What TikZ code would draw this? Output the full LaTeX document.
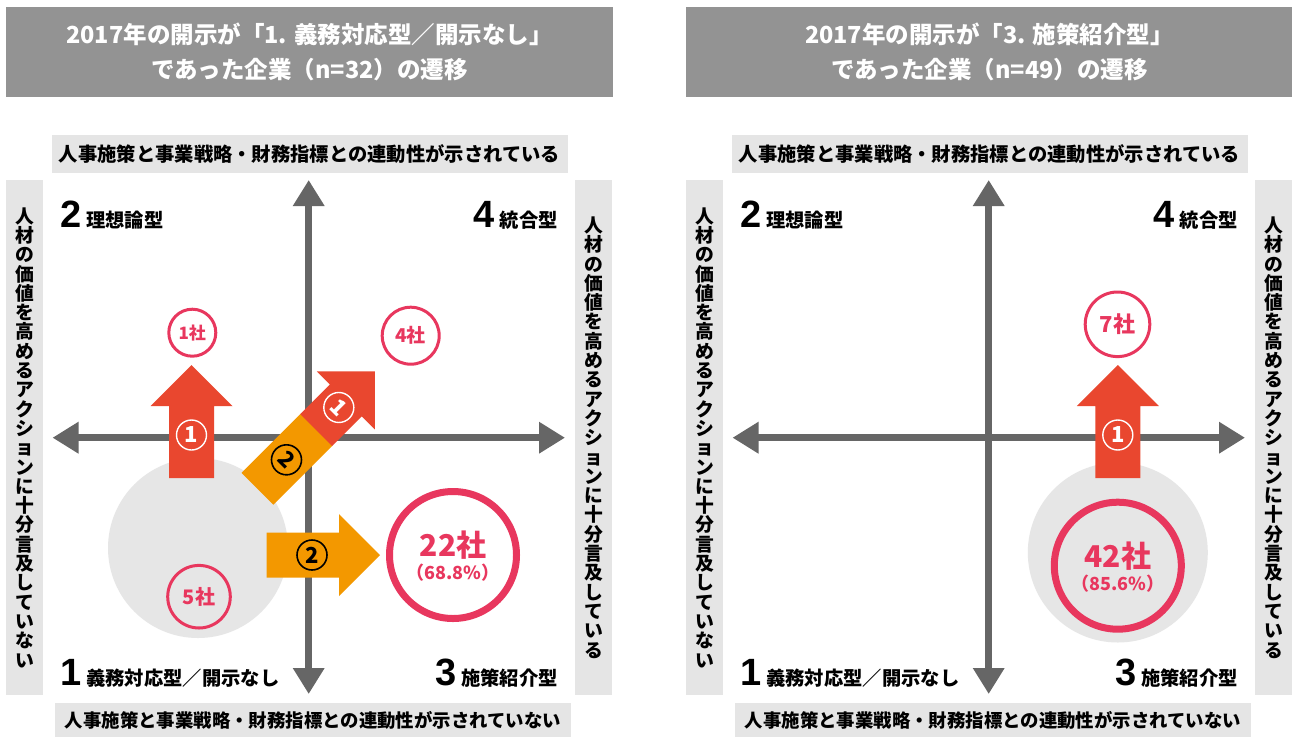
\documentclass[tikz,border=0pt]{standalone}
\usepackage{fontspec}
\setmainfont{Noto Sans CJK JP}
\newfontfamily\digitfont{Liberation Sans}
\usetikzlibrary{arrows.meta}
\definecolor{titlegray}{HTML}{939393}
\definecolor{boxgray}{HTML}{E5E5E5}
\definecolor{axisgray}{HTML}{666666}
\definecolor{redA}{HTML}{E9472F}
\definecolor{orangeA}{HTML}{F39800}
\definecolor{pinkC}{HTML}{E8375E}
\definecolor{circlegray}{HTML}{E6E6E6}
\newcommand\myfs[1]{\fontsize{#1}{#1}\selectfont}
\newcommand\qd[1]{{\digitfont\bfseries\myfs{38}#1}}
\tikzset{
  titlebox/.style={fill=titlegray, text=white, align=center, inner sep=0pt,
    minimum width=607pt, minimum height=90pt,
    font=\bfseries\fontsize{23.5}{35}\selectfont},
  labbox/.style={fill=boxgray, text=black, inner sep=0pt, font=\bfseries\myfs{19.3}},
  vbox/.style={fill=boxgray, text=black, inner sep=0pt, align=center,
    minimum width=37pt, minimum height=515pt,
    font=\bfseries\fontsize{18.8}{19.3}\selectfont},
  quad/.style={inner sep=0pt, text=black, font=\bfseries\myfs{19.3}},
  axisline/.style={draw=axisgray, line width=7pt,
    arrows={Triangle[width=30pt,length=26pt]-Triangle[width=30pt,length=26pt]}},
  cnt/.style={circle, draw=pinkC, line width=3pt, text=pinkC, inner sep=0pt},
  bigcnt/.style={circle, draw=pinkC, line width=7pt, inner sep=0pt, minimum size=127pt},
  pinktext/.style={text=pinkC, inner sep=0pt},
  numw/.style={circle, draw=white, line width=1.4pt, minimum size=30pt, inner sep=0pt,
    text=white, font=\bfseries\myfs{22}},
  numb/.style={circle, draw=black, line width=1.6pt, minimum size=30pt, inner sep=0pt,
    text=black, font=\bfseries\myfs{22}},
  uparrow/.pic={\fill[redA] (-22.5,0) -- (-22.5,-72) -- (-41,-72) -- (0,-113)
    -- (41,-72) -- (22.5,-72) -- (22.5,0) -- cycle;}
}
\newcommand\panelcommon[2]{%
  \node[titlebox] (title) at (309.5,52) {#1\\#2};
  \node[labbox, minimum width=516pt, minimum height=38pt] (top) at (309.5,154)
    {人事施策と事業戦略・財務指標との連動性が示されている};
  \node[labbox, minimum width=516pt, minimum height=34pt, font=\bfseries\myfs{18.4}] (bot) at (313,720)
    {人事施策と事業戦略・財務指標との連動性が示されていない};
  \node[vbox] (leftlab) at (24.5,437.5)
    {人\\材\\の\\価\\値\\を\\高\\め\\る\\ア\\ク\\シ\\ョ\\ン\\に\\十\\分\\言\\及\\し\\て\\い\\な\\い};
  \node[vbox] (rightlab) at (593.5,437.5)
    {人\\材\\の\\価\\値\\を\\高\\め\\る\\ア\\ク\\シ\\ョ\\ン\\に\\十\\分\\言\\及\\し\\て\\い\\る};
  \coordinate (vt) at (308.7,180);
  \coordinate (vb) at (308.7,694);
  \coordinate (hl) at (52.5,437.7);
  \coordinate (hr) at (565,437.7);
  \draw[axisline] (vt) -- (vb);
  \draw[axisline] (hl) -- (hr);
  \node[quad, anchor=base west] (q2) at (60,227) {\qd{2}\hspace{5pt}理想論型};
  \node[quad, anchor=base east] (q4) at (558,227) {\qd{4}\hspace{5pt}統合型};
  \node[quad, anchor=base west] (q1) at (60,685) {\qd{1}\hspace{5pt}義務対応型／開示なし};
  \node[quad, anchor=base east] (q3) at (558,685) {\qd{3}\hspace{5pt}施策紹介型};
}
\begin{document}
\begin{tikzpicture}[x=1pt, y=-1pt]
\useasboundingbox (0,0) rectangle (1292,737);
\fill[white] (0,0) rectangle (1292,737);
% gray circles
\fill[circlegray] (198,548) circle[radius=90];
\fill[circlegray] (1117.8,552.5) circle[radius=90];
% panels
\begin{scope}[name prefix=L-]
  \panelcommon{2017年の開示が「1. 義務対応型／開示なし」}{であった企業（n=32）の遷移}
\end{scope}
\begin{scope}[xshift=680pt, name prefix=R-]
  \panelcommon{2017年の開示が「3. 施策紹介型」}{であった企業（n=49）の遷移}
\end{scope}
% ---- left panel arrows
\pic at (191.5,478) {uparrow};
\node[numw] (L-n1) at (191.5,435) {1};
\begin{scope}[shift={(257.5,488.8)}, rotate=-45]
  \fill[orangeA] (-22.5,0) rectangle (22.5,-83.5);
  \fill[redA] (-22.5,-83) -- (-22.5,-125) -- (-41,-125) -- (0,-166) -- (41,-125)
    -- (22.5,-125) -- (22.5,-83) -- cycle;
  \node[numb, transform shape] (L-d2) at (0,-41) {2};
  \node[numw, transform shape] (L-d1) at (0,-115) {1};
\end{scope}
\fill[orangeA] (266.7,532.5) -- (339,532.5) -- (339,514) -- (380,555) -- (339,596)
  -- (339,577.5) -- (266.7,577.5) -- cycle;
\node[numb] (L-n2) at (312,555) {2};
% left panel counts
\node[cnt, minimum size=47pt, font=\bfseries\myfs{17}] (L-c1) at (192.3,332.7) {1社};
\node[cnt, minimum size=57pt, font=\bfseries\myfs{19}] (L-c4) at (410.7,335.7) {4社};
\node[cnt, minimum size=62.6pt, font=\bfseries\myfs{20}] (L-c5) at (199,596.7) {5社};
\node[bigcnt] (L-c22) at (453,555) {};
\node[pinktext, font=\bfseries\myfs{30}] (L-t22) at (453,545) {22社};
\node[pinktext, font=\bfseries\myfs{18}] (L-p22) at (453,573) {（68.8\%）};
% ---- right panel
\pic at (1117.8,478) {uparrow};
\node[numw] (R-n1) at (1117.8,435) {1};
\node[cnt, minimum size=64.6pt, font=\bfseries\myfs{22}] (R-c7) at (1117.5,324.3) {7社};
\node[bigcnt] (R-c42) at (1117.8,565.7) {};
\node[pinktext, font=\bfseries\myfs{30}] (R-t42) at (1117.8,556.5) {42社};
\node[pinktext, font=\bfseries\myfs{18}] (R-p42) at (1117.8,583.5) {（85.6\%）};
\end{tikzpicture}
\end{document}
